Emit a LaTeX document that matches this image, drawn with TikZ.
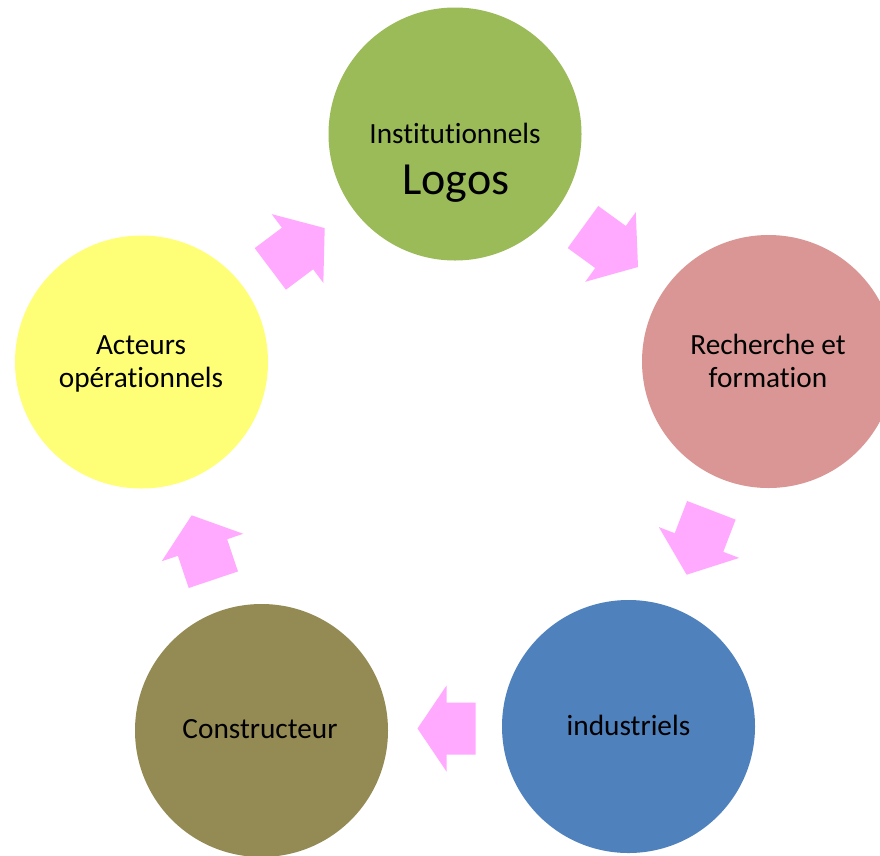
\documentclass[tikz,border=0pt]{standalone}
\usepackage{fontspec}
\setmainfont{Carlito}[RawFeature=-liga]
\definecolor{cgreen}{HTML}{9BBB59}
\definecolor{cpink}{HTML}{D99694}
\definecolor{cblue}{HTML}{4F81BD}
\definecolor{colive}{HTML}{948A54}
\definecolor{cyellow}{HTML}{FFFF77}
\definecolor{carrow}{HTML}{FFAAFF}
\tikzset{
  disc/.style={circle, inner sep=0pt, minimum size=253pt, draw=none},
  lbl/.style={anchor=base, inner sep=0pt, font=\fontsize{29.3}{33}\selectfont},
  biglbl/.style={anchor=base, inner sep=0pt, font=\fontsize{46}{50}\selectfont},
  blockarrow/.style={fill=carrow, draw=none},
}
\newcommand\cyclearrow[3]{% center, angle, half length
  \fill[blockarrow, shift={#1}, rotate=#2]
    (-#3,-26) -- (0,-26) -- (0,-43) -- (#3,0) -- (0,43) -- (0,26) -- (-#3,26) -- cycle;
}
\begin{document}
\begin{tikzpicture}[x=1pt, y=-1pt]
  \useasboundingbox (0,0) rectangle (880,855);
  \fill[white] (0,0) rectangle (880,855);

  \node[disc, fill=cgreen]  (inst)  at (455,134)     {};
  \node[disc, fill=cpink]   (rech)  at (768.5,361.5) {};
  \node[disc, fill=cblue]   (indu)  at (628.5,726.5) {};
  \node[disc, fill=colive]  (cons)  at (261.5,730.5) {};
  \node[disc, fill=cyellow] (acte)  at (141.5,362)   {};

  \node[lbl]    (t1)  at (455,143)   {Institutionnels};
  \node[biglbl] (t1b) at (456,194)   {Logos};
  \node[lbl]    (t2)  at (768,354)   {Recherche et};
  \node[lbl]    (t2b) at (768,387)   {formation};
  \node[lbl]    (t3)  at (628.5,735) {industriels};
  \node[lbl]    (t4)  at (260,738)   {Constructeur};
  \node[lbl]    (t5)  at (141,354)   {Acteurs};
  \node[lbl]    (t5b) at (141,387)   {opérationnels};

  \cyclearrow{(610.5,247)}{-36}{34}
  \cyclearrow{(699,542.5)}{-111}{34.5}
  \cyclearrow{(446.5,728.5)}{180}{29}
  \cyclearrow{(202.5,547.5)}{108.6}{34}
  \cyclearrow{(297.5,248.5)}{36.9}{34}
\end{tikzpicture}
\end{document}
